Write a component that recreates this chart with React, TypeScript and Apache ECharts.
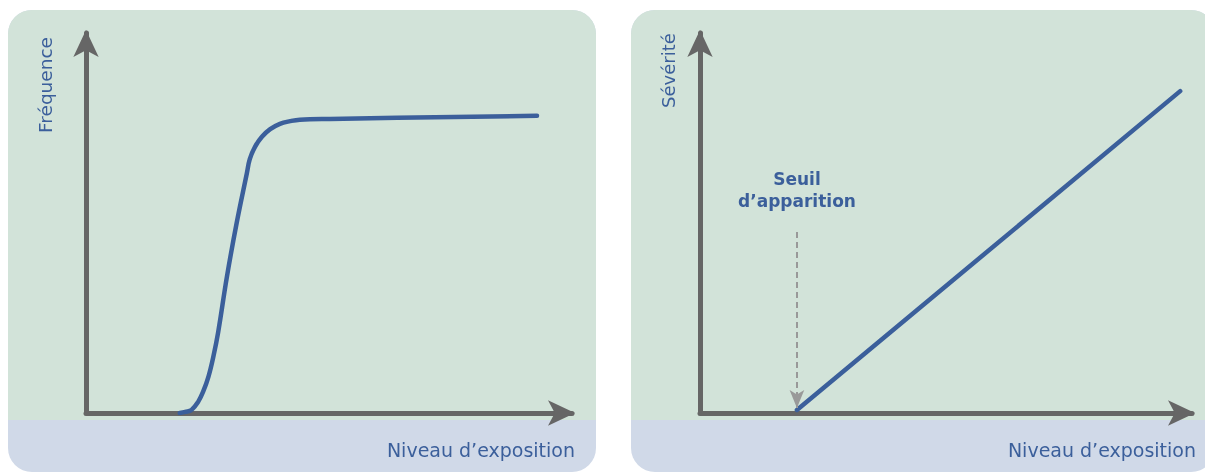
import React, { useEffect, useRef } from "react";
import * as echarts from "echarts";

// Left chart: frequency vs exposure level (sigmoid-like curve)
const frequencyCurve: [number, number][] = [
  [19.3, 0],
  [20.4, 0.3],
  [21.7, 0.8],
  [23.1, 3.0],
  [24.1, 5.6],
  [25.2, 9.6],
  [26.2, 14.8],
  [27.2, 21.3],
  [29.0, 35.9],
  [31.0, 50.0],
  [33.1, 63.1],
  [33.7, 66.8],
  [34.8, 70.1],
  [36.2, 72.7],
  [37.9, 74.7],
  [39.9, 76.1],
  [42.0, 76.8],
  [44.0, 77.2],
  [50.2, 77.4],
  [92.8, 78.2],
];

// Right chart: severity vs exposure level (linear above threshold)
const severityLine: [number, number][] = [
  [19.7, 0.8],
  [97.6, 84.7],
];
const thresholdX = 19.7;
const thresholdTop = 47.6;
const thresholdBottom = 1.3;

const xAxisTitle = "Niveau d\u2019exposition";
const leftYAxisTitle = "Fréquence";
const rightYAxisTitle = "Sévérité";
const thresholdLabel = "Seuil\nd\u2019apparition";

const BLUE = "#3b5f9b";
const AXIS = "#666666";
const GREEN_BG = "#d2e3d9";
const BLUE_BG = "#d0d9e8";
const FONT = "'DejaVu Sans', 'Noto Sans', sans-serif";

export default function App() {
  const ref = useRef<HTMLDivElement>(null);
  useEffect(() => {
    if (!ref.current) return;
    const chart = echarts.init(ref.current, undefined, { renderer: "svg" });

    const panel = (x: number, w: number) => [
      {
        type: "rect",
        shape: { x, y: 10, width: w, height: 462, r: 24 },
        style: { fill: BLUE_BG },
        z: -10,
      },
      {
        type: "rect",
        shape: { x, y: 10, width: w, height: 410, r: [24, 24, 0, 0] },
        style: { fill: GREEN_BG },
        z: -9,
      },
    ];

    const axisCommon = () => ({
      type: "value",
      min: 0,
      max: 100,
      axisLine: {
        show: true,
        symbol: ["none", "arrow"],
        symbolSize: [19, 27],
        symbolOffset: [0, 3],
        lineStyle: { color: AXIS, width: 5 },
      },
      axisTick: { show: false },
      axisLabel: { show: false },
      splitLine: { show: false },
    });

    const titleStyle = (text: string, size: number) => ({
      text,
      fill: BLUE,
      font: `${size}px ${FONT}`,
      align: "right",
      verticalAlign: "middle",
    });

    chart.setOption({
      animation: false,
      grid: [
        { left: 86, top: 33, width: 486, height: 380 },
        { left: 700, top: 33, width: 492, height: 380 },
      ],
      xAxis: [
        { ...axisCommon(), gridIndex: 0 },
        { ...axisCommon(), gridIndex: 1 },
      ],
      yAxis: [
        { ...axisCommon(), gridIndex: 0 },
        { ...axisCommon(), gridIndex: 1 },
      ],
      graphic: [
        ...panel(8, 588),
        ...panel(631, 584),
        { type: "text", x: 575, y: 450, style: titleStyle(xAxisTitle, 19) },
        { type: "text", x: 1196, y: 450, style: titleStyle(xAxisTitle, 19) },
        {
          type: "text",
          x: 45,
          y: 133,
          rotation: Math.PI / 2,
          style: { ...titleStyle(leftYAxisTitle, 18.5), align: "left" },
        },
        {
          type: "text",
          x: 668,
          y: 108,
          rotation: Math.PI / 2,
          style: { ...titleStyle(rightYAxisTitle, 18), align: "left" },
        },
        {
          type: "text",
          x: 797,
          y: 190,
          style: {
            text: thresholdLabel,
            fill: BLUE,
            font: `bold 17px ${FONT}`,
            align: "center",
            verticalAlign: "middle",
            lineHeight: 22,
          },
        },
      ],
      series: [
        {
          type: "line",
          xAxisIndex: 0,
          yAxisIndex: 0,
          data: frequencyCurve,
          smooth: 0.4,
          showSymbol: false,
          lineStyle: { color: BLUE, width: 4.5, cap: "round", join: "round" },
        },
        {
          type: "line",
          xAxisIndex: 1,
          yAxisIndex: 1,
          data: severityLine,
          showSymbol: false,
          lineStyle: { color: BLUE, width: 4.5, cap: "round" },
          markLine: {
            silent: true,
            symbol: ["none", "arrow"],
            symbolSize: [11, 18],
            label: { show: false },
            lineStyle: { color: "#999999", type: [6, 4], width: 2 },
            data: [
              [
                { coord: [thresholdX, thresholdTop] },
                { coord: [thresholdX, thresholdBottom] },
              ],
            ],
          },
        },
      ],
    });
    return () => chart.dispose();
  }, []);
  return (
    <div
      ref={ref}
      style={{ position: "fixed", left: 0, top: 0, width: 1205, height: 473 }}
    />
  );
}
